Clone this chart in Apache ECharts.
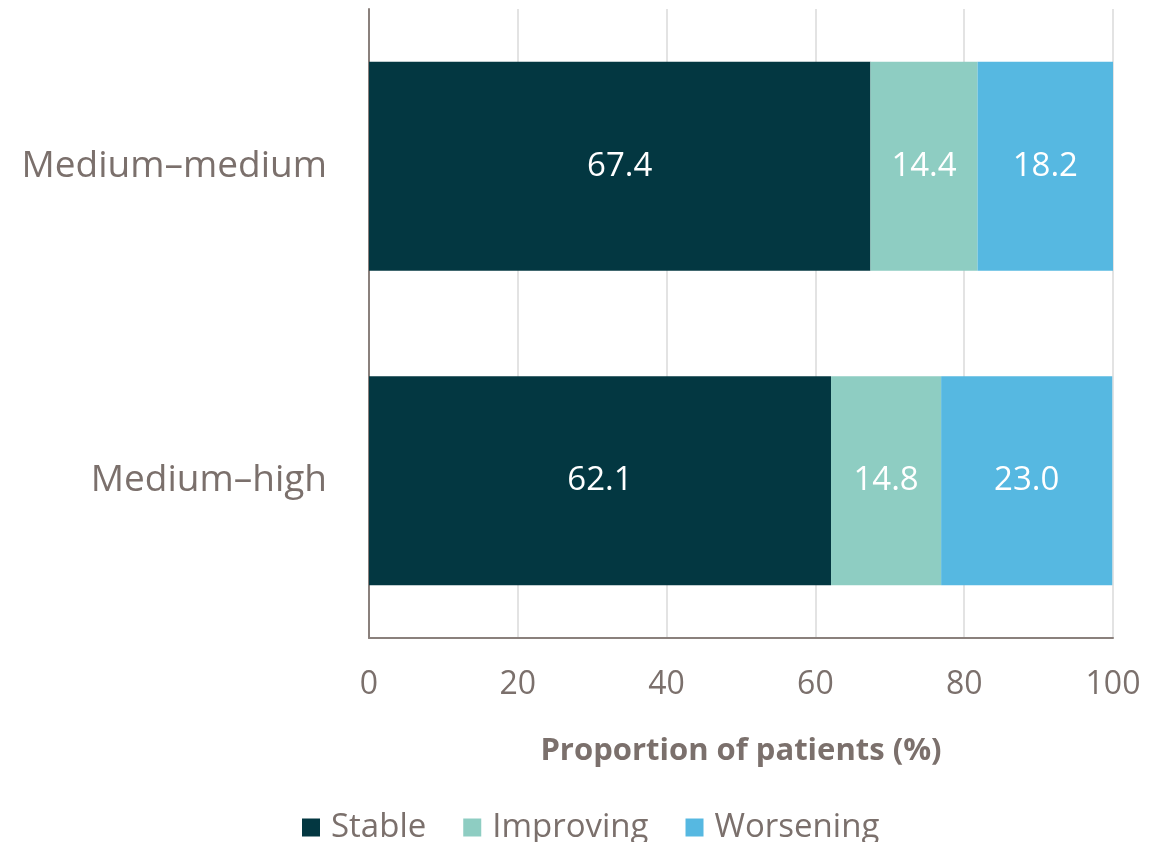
<!DOCTYPE html>
<html>
<head>
<meta charset="utf-8">
<script src="https://cdn.jsdelivr.net/npm/echarts@6/dist/echarts.min.js"></script>
<style>
  html, body { margin: 0; padding: 0; background: #ffffff; }
  #chart { width: 1170px; height: 842px; }
</style>
</head>
<body>
<div id="chart"></div>
<script>
// Transition groups (bottom to top on the category axis)
const categories = ['Medium\u2013high', 'Medium\u2013medium'];

// Proportion of patients (%) per trajectory
const stable = [62.1, 67.4];
const improving = [14.8, 14.4];
const worsening = [23.0, 18.2];

const xTicks = [0, 20, 40, 60, 80, 100];

const textColor = '#7b706c';
const fontFamily = '"Open Sans", "Noto Sans", sans-serif';

const chart = echarts.init(document.getElementById('chart'), null, { renderer: 'canvas' });

function barSeries(name, values, color) {
  return {
    name: name,
    type: 'bar',
    stack: 'total',
    data: values,
    barCategoryGap: '33.5%',
    itemStyle: { color: color },
    label: {
      show: true,
      position: 'inside',
      color: '#ffffff',
      fontFamily: fontFamily,
      fontSize: 33,
      formatter: p => p.value.toFixed(1)
    },
    emphasis: { disabled: true }
  };
}

chart.setOption({
  animation: false,
  backgroundColor: '#ffffff',
  textStyle: { fontFamily: fontFamily },
  grid: { left: 369, right: 57, top: 9, bottom: 204, containLabel: false },
  legend: {
    top: 806,
    left: 297,
    itemWidth: 18,
    itemHeight: 18,
    itemGap: 37,
    icon: 'rect',
    textStyle: { color: textColor, fontSize: 33, fontFamily: fontFamily, padding: [0, 0, 0, 6] },
    data: ['Stable', 'Improving', 'Worsening']
  },
  xAxis: {
    type: 'value',
    min: xTicks[0],
    max: xTicks[xTicks.length - 1],
    interval: 20,
    name: 'Proportion of patients (%)',
    nameLocation: 'middle',
    nameGap: 98,
    nameTextStyle: { color: textColor, fontSize: 31, fontWeight: 'bold', fontFamily: fontFamily },
    axisLine: { show: true, lineStyle: { color: '#8a807c', width: 2 } },
    axisTick: { show: false },
    axisLabel: { color: textColor, fontSize: 32, margin: 31, fontFamily: fontFamily },
    splitLine: { show: true, lineStyle: { color: '#e3e3e3', width: 2 } }
  },
  yAxis: {
    type: 'category',
    data: categories,
    axisLine: { show: true, lineStyle: { color: '#8a807c', width: 2 } },
    axisTick: { show: false },
    axisLabel: { color: textColor, fontSize: 37, margin: 42, fontFamily: fontFamily }
  },
  series: [
    barSeries('Stable', stable, '#033741'),
    barSeries('Improving', improving, '#8ecdc2'),
    barSeries('Worsening', worsening, '#56b8e1')
  ]
});
</script>
</body>
</html>
